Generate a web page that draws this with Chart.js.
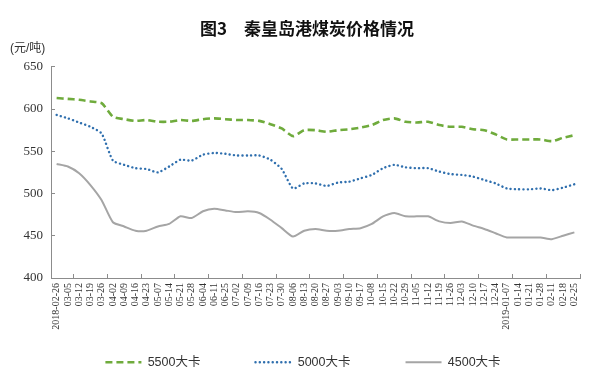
<!DOCTYPE html>
<html>
<head>
<meta charset="utf-8">
<script src="https://cdn.jsdelivr.net/npm/chart.js@4"></script>
<style>
html, body { margin: 0; padding: 0; background: #fff; }
</style>
</head>
<body>
<canvas id="myChart" width="600" height="381"></canvas>
<script>
// weekly dates
const labels = ['2018-02-26', '03-05', '03-12', '03-19', '03-26', '04-02', '04-09', '04-16', '04-23', '05-07',
	'05-14', '05-21', '05-28', '06-04', '06-11', '06-25', '07-02', '07-09', '07-16', '07-23',
	'07-30', '08-06', '08-13', '08-20', '08-27', '09-03', '09-10', '09-17', '10-08', '10-15',
	'10-22', '10-29', '11-05', '11-12', '11-19', '11-26', '12-03', '12-10', '12-17', '12-24',
	'2019-01-07', '01-14', '01-21', '01-28', '02-11', '02-18', '02-25'];

const p5500 = [613, 612, 611, 609, 607, 591, 588, 586, 587, 585,
	585, 587, 586, 588, 589, 588, 587, 587, 586, 582,
	577, 568, 575, 575, 573, 575, 576, 578, 581, 587,
	589, 585, 584, 585, 581, 579, 579, 576, 575, 570,
	564, 564, 564, 564, 562, 566, 569];

const p5000 = [593, 589, 584, 579, 571, 539, 534, 530, 529, 525,
	532, 540, 539, 546, 548, 547, 545, 545, 545, 540,
	529, 506, 512, 512, 509, 513, 514, 518, 522, 530,
	534, 531, 530, 530, 526, 523, 522, 520, 516, 512,
	506, 505, 505, 506, 504, 507, 511];

const p4500 = [535, 532, 524, 510, 492, 466, 461, 456, 456, 461,
	464, 473, 471, 479, 482, 480, 478, 479, 477, 469,
	459, 449, 456, 458, 456, 456, 458, 459, 464, 473,
	477, 473, 473, 473, 467, 465, 467, 462, 458, 453,
	448, 448, 448, 448, 446, 450, 454];

const seriesNames = ['5500大卡', '5000大卡', '4500大卡'];
const yMin = 400, yMax = 650, yStep = 50;

const axisGray = '#8c8c8c';
const serif = '"Liberation Serif", "Times New Roman", serif';
const sans = '"Liberation Sans", "Noto Sans CJK SC", sans-serif';

// move legend up / title a bit right, like the excel original
// (legend clips to its box, so only the top moves)
const nudge = {
	id: 'nudge',
	afterLayout(chart) {
		chart.legend.top -= 29;
		chart.legend.left += 8;
		chart.legend.right += 8;
		chart.titleBlock.left += 12;
		chart.titleBlock.right += 12;
	}
};

const ctx = document.getElementById('myChart').getContext('2d');
const myChart = new Chart(ctx, {
	type: 'line',
	data: {
		labels: labels,
		datasets: [{
			label: seriesNames[0],
			data: p5500,
			borderColor: '#6fab3c',
			borderWidth: 2.6,
			borderDash: [7, 4],
			pointRadius: 0,
			tension: 0.2
		},
		{
			label: seriesNames[1],
			data: p5000,
			borderColor: '#2f6fae',
			borderWidth: 2.4,
			borderDash: [0.1, 4.2],
			borderCapStyle: 'round',
			pointRadius: 0,
			tension: 0.2
		},
		{
			label: seriesNames[2],
			data: p4500,
			borderColor: '#a5a5a5',
			borderWidth: 2,
			pointRadius: 0,
			tension: 0.2
		}]
	},
	options: {
		responsive: false,
		animation: false,
		devicePixelRatio: 1,
		layout: { padding: { left: 10, right: 20, top: 0, bottom: 0 } },
		plugins: {
			title: {
				display: true,
				text: '图3　秦皇岛港煤炭价格情况',
				color: '#111',
				font: { family: '"Noto Sans CJK SC", sans-serif', size: 17, weight: 'bold' },
				padding: { top: 18, bottom: 0 }
			},
			subtitle: {
				display: true,
				text: '(元/吨)',
				align: 'start',
				color: '#333',
				font: { family: sans, size: 12 },
				padding: { top: 3, bottom: 11 }
			},
			legend: {
				position: 'bottom',
				maxHeight: 51,
				labels: {
					usePointStyle: true,
					pointStyle: 'line',
					pointStyleWidth: 36,
					padding: 55,
					color: '#333',
					font: { family: sans, size: 12.5 },
					// legend line should look like the series line
					generateLabels: function (chart) {
						const items = Chart.defaults.plugins.legend.labels.generateLabels(chart);
						items.forEach(function (it) {
							const ds = chart.data.datasets[it.datasetIndex];
							it.lineDash = ds.borderDash || [];
							it.lineWidth = ds.borderWidth;
							it.strokeStyle = ds.borderColor;
							it.lineCap = ds.borderCapStyle || 'butt';
						});
						return items;
					}
				}
			},
			tooltip: { enabled: false }
		},
		scales: {
			x: {
				offset: true,
				afterFit: function (s) { s.height = 52; },
				grid: {
					offset: true,
					drawOnChartArea: false,
					tickLength: -4,
					tickColor: function (c) {
						return (c.index === undefined || c.index % 3 === 2) ? axisGray : 'rgba(0,0,0,0)';
					}
				},
				border: { color: axisGray, width: 1 },
				ticks: {
					autoSkip: false,
					minRotation: 90,
					maxRotation: 90,
					padding: 9,
					color: '#333',
					font: { family: serif, size: 10 }
				}
			},
			y: {
				min: yMin,
				max: yMax,
				afterFit: function (s) { s.width = 41; },
				grid: {
					drawOnChartArea: false,
					tickLength: -4,
					tickColor: axisGray
				},
				border: { color: axisGray, width: 1 },
				ticks: {
					stepSize: yStep,
					padding: 12,
					color: '#333',
					font: { family: serif, size: 13 }
				}
			}
		}
	},
	plugins: [nudge]
});
</script>
</body>
</html>
